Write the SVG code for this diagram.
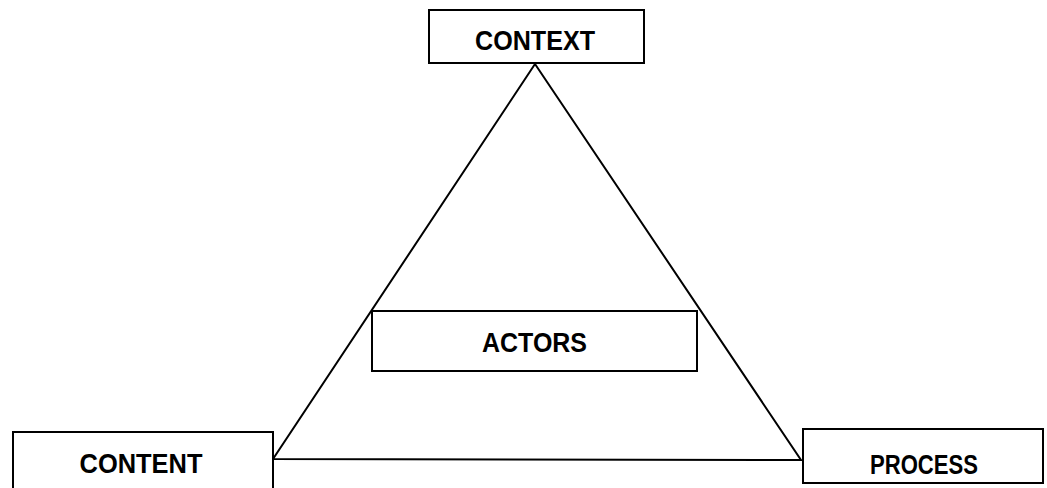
<svg xmlns="http://www.w3.org/2000/svg" width="1047" height="488" viewBox="0 0 1047 488">
<style>
.box{fill:#fff;stroke:#000;stroke-width:2}
.edge{fill:none;stroke:#000;stroke-width:2}
.lbl{font-family:"Liberation Sans",Arial,sans-serif;font-weight:bold;font-size:27px;fill:#000;text-anchor:middle}
</style>
<rect width="1047" height="488" fill="#fff"/>
<g id="connectors">
<polygon class="edge" points="535,64 273,459 801,460"/>
</g>
<g id="context">
<rect class="box" x="429" y="10" width="215" height="53"/>
<text class="lbl" x="535" y="50" textLength="120" lengthAdjust="spacingAndGlyphs">CONTEXT</text>
</g>
<g id="actors">
<rect class="box" x="372" y="311" width="325" height="60"/>
<text class="lbl" x="534.5" y="352" textLength="105" lengthAdjust="spacingAndGlyphs">ACTORS</text>
</g>
<g id="content">
<rect class="box" x="13" y="432" width="260" height="66"/>
<text class="lbl" x="141" y="473" textLength="123" lengthAdjust="spacingAndGlyphs">CONTENT</text>
</g>
<g id="process">
<rect class="box" x="803" y="429" width="240" height="54"/>
<text class="lbl" x="924" y="474" textLength="108" lengthAdjust="spacingAndGlyphs">PROCESS</text>
</g>
</svg>
